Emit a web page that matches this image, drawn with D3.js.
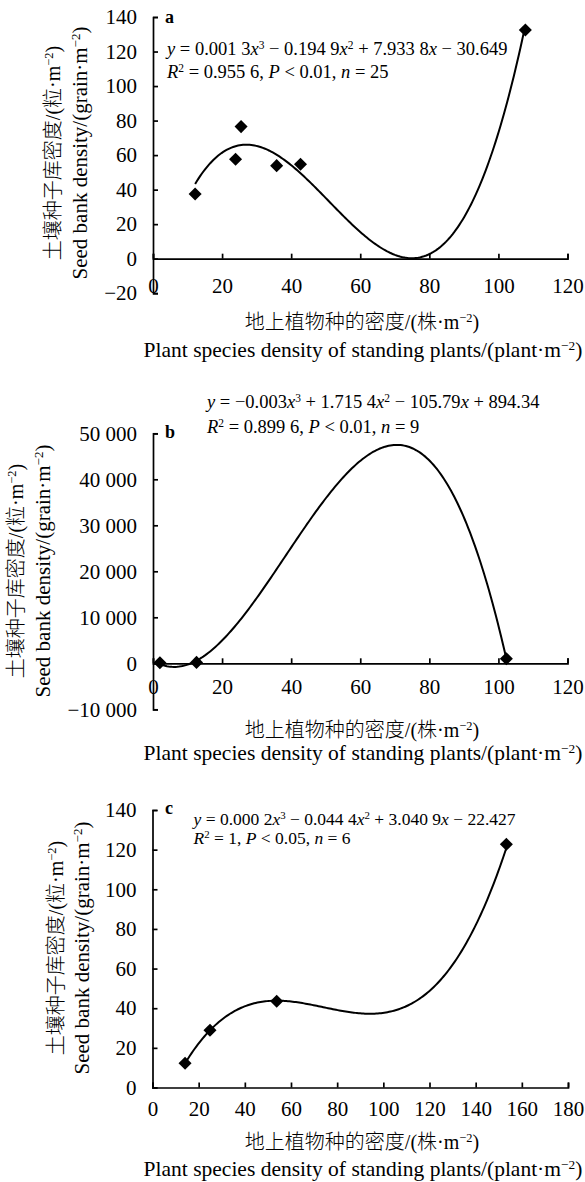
<!DOCTYPE html>
<html>
<head>
<meta charset="utf-8">
<script src="https://cdn.jsdelivr.net/npm/d3@7"></script>
<style>
  body { margin: 0; background: #fff; }
  text { font-family: "Liberation Serif", "Noto Sans CJK SC", serif; fill: #000; }
  .cn { font-weight: 300; }
</style>
</head>
<body>
<svg id="chart" width="585" height="1182"></svg>
<script>
// panel a data
const aX = [12.2, 23.9, 25.5, 35.8, 42.7, 107.8];
const aY = [37.5, 57.6, 76.5, 53.9, 54.7, 132.5];
const aFit = [-20.14, 7.251, -0.1826, 0.001194]; // drawn trend line, c0..c3
const aTicksX = [0, 20, 40, 60, 80, 100, 120];
const aTicksY = [-20, 0, 20, 40, 60, 80, 100, 120, 140];

// panel b
const bX = [2, 12.6, 102.3];
const bY = [100, 200, 1000];
const bFit = [610.1, -468.2, 41.48, -0.3604];
const bTicksX = [0, 20, 40, 60, 80, 100, 120];
const bTicksY = [-10000, 0, 10000, 20000, 30000, 40000, 50000];

// panel c
const cX = [14.1, 24.9, 53.8, 153.3];
const cY = [12.2, 28.9, 43.5, 122.7];
const cFit = [-22.427, 3.0409, -0.0444, 0.0002];
const cTicksX = [0, 20, 40, 60, 80, 100, 120, 140, 160, 180];
const cTicksY = [0, 20, 40, 60, 80, 100, 120, 140];

const eqA = [[{i:"y"}, " = 0.001 3", {i:"x"}, {s:"3"}, " − 0.194 9", {i:"x"}, {s:"2"}, " + 7.933 8", {i:"x"}, " − 30.649"],
             [{i:"R"}, {s:"2"}, " = 0.955 6, ", {i:"P"}, " < 0.01, ", {i:"n"}, " = 25"]];
const eqB = [[{i:"y"}, " = −0.003", {i:"x"}, {s:"3"}, " + 1.715 4", {i:"x"}, {s:"2"}, " − 105.79", {i:"x"}, " + 894.34"],
             [{i:"R"}, {s:"2"}, " = 0.899 6, ", {i:"P"}, " < 0.01, ", {i:"n"}, " = 9"]];
const eqC = [[{i:"y"}, " = 0.000 2", {i:"x"}, {s:"3"}, " − 0.044 4", {i:"x"}, {s:"2"}, " + 3.040 9", {i:"x"}, " − 22.427"],
             [{i:"R"}, {s:"2"}, " = 1, ", {i:"P"}, " < 0.05, ", {i:"n"}, " = 6"]];

const yTitleCn = ["土壤种子库密度/(粒·m", {s:"−2"}, ")"];
const yTitleEn = ["Seed bank density/(grain·m", {s:"−2"}, ")"];
const xTitleCn = ["地上植物种的密度/(株·m", {s:"−2"}, ")"];
const xTitleEn = ["Plant species density of standing plants/(plant·m", {s:"−2"}, ")"];

const panels = [
  {tag:"a", xs:aX, ys:aY, fit:aFit, tx:aTicksX, ty:aTicksY, xr:[153, 567.5], yr:[293.2, 17],
   xpad:19, eq:eqA, eqX:167, eqY:[55, 78], eqSize:18.5, tagY:23, cnX:53, enX:80, titMid:153, xtY:[322, 350]},
  {tag:"b", xs:bX, ys:bY, fit:bFit, tx:bTicksX, ty:bTicksY, xr:[153, 567.5], yr:[709.3, 433.3],
   xpad:16, eq:eqB, eqX:207, eqY:[408, 433], eqSize:18.5, tagY:438, cnX:16, enX:43, titMid:571, xtY:[730, 753]},
  {tag:"c", xs:cX, ys:cY, fit:cFit, tx:cTicksX, ty:cTicksY, xr:[152.5, 568], yr:[1087.5, 810],
   xpad:14, eq:eqC, eqX:193.5, eqY:[825, 844], eqSize:17.5, tagY:814, cnX:56, enX:82, titMid:948, xtY:[1142, 1169]}
];

const loc = d3.formatLocale({decimal: ".", thousands: " ", grouping: [3], currency: ["", ""], minus: "−"});
const fmt = loc.format(",");

const svg = d3.select("#chart");
svg.append("rect").attr("width", 585).attr("height", 1182).attr("fill", "#fff");

function rich(g, x, y, parts, size, opts = {}) {
  const t = g.append("text").attr("x", x).attr("y", y).attr("font-size", size)
    .attr("text-anchor", opts.anchor || "start");
  if (opts.cls) t.attr("class", opts.cls);
  if (opts.transform) t.attr("transform", opts.transform);
  parts.forEach(p => {
    if (typeof p === "string") t.append("tspan").text(p);
    else if (p.i) t.append("tspan").attr("font-style", "italic").text(p.i);
    else if (p.s) t.append("tspan").attr("baseline-shift", "super").attr("font-size", size * 0.62).text(p.s);
  });
  return t;
}

const poly = (c, x) => c[0] + c[1] * x + c[2] * x * x + c[3] * x * x * x;

panels.forEach(p => {
  const g = svg.append("g");
  const x = d3.scaleLinear().domain([p.tx[0], p.tx[p.tx.length - 1]]).range(p.xr);
  const y = d3.scaleLinear().domain([p.ty[0], p.ty[p.ty.length - 1]]).range(p.yr);

  const ax = g.append("g").attr("transform", `translate(0,${y(0)})`)
    .call(d3.axisBottom(x).tickValues(p.tx).tickSize(-5).tickPadding(p.xpad).tickFormat(d3.format("d")));
  const ay = g.append("g").attr("transform", `translate(${x(0)},0)`)
    .call(d3.axisLeft(y).tickValues(p.ty).tickSize(-5).tickPadding(16).tickFormat(fmt));
  [ax, ay].forEach(a => {
    a.attr("font-family", null).attr("font-size", null);
    a.selectAll("path, line").attr("stroke", "#000").attr("stroke-width", 1.7);
    a.selectAll("text").attr("font-size", 21);
  });

  // trend line
  const x0 = d3.min(p.xs), x1 = d3.max(p.xs);
  const pts = d3.range(0, 201).map(k => x0 + (x1 - x0) * k / 200);
  g.append("path")
    .datum(pts)
    .attr("fill", "none").attr("stroke", "#000").attr("stroke-width", 2)
    .attr("d", d3.line().x(d => x(d)).y(d => y(poly(p.fit, d))));

  // points
  g.selectAll("path.pt").data(p.xs).join("path").attr("class", "pt")
    .attr("d", d3.symbol(d3.symbolSquare, 85))
    .attr("transform", (d, i) => `translate(${x(d)},${y(p.ys[i])}) rotate(45)`)
    .attr("fill", "#000");

  // labels
  g.append("text").attr("x", 165).attr("y", p.tagY).attr("font-size", 18)
    .attr("font-weight", "bold").text(p.tag);
  p.eq.forEach((line, k) => rich(g, p.eqX, p.eqY[k], line, p.eqSize));

  rich(g, 0, 0, yTitleCn, 20, {cls: "cn", anchor: "middle", transform: `translate(${p.cnX + 7},${p.titMid}) rotate(-90)`});
  rich(g, 0, 0, yTitleEn, 21, {anchor: "middle", transform: `translate(${p.enX + 7},${p.titMid}) rotate(-90)`});
  rich(g, 362, p.xtY[0] + 7, xTitleCn, 20, {cls: "cn", anchor: "middle"});
  rich(g, 363, p.xtY[1] + 7, xTitleEn, 21.5, {anchor: "middle"});
});
</script>
</body>
</html>
